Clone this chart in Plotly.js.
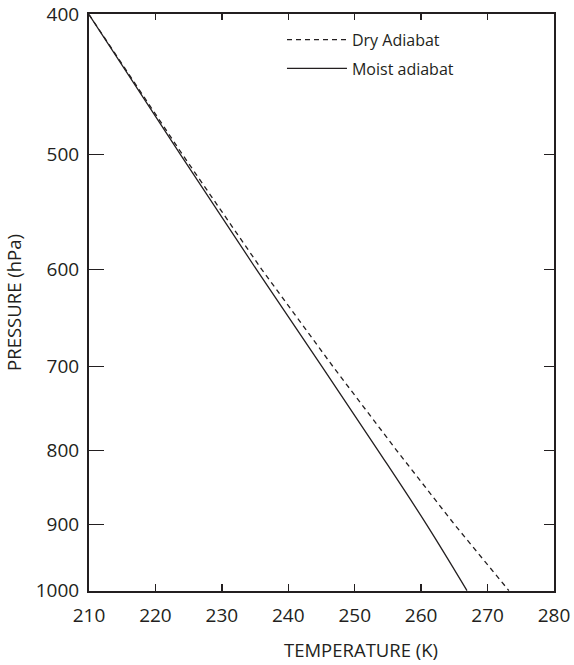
<!DOCTYPE html>
<html>
<head>
<meta charset="utf-8">
<script src="https://cdn.plot.ly/plotly-3.0.1.min.js"></script>
<style>html,body{margin:0;padding:0;background:#fff;}#chart{width:574px;height:665px;}</style>
</head>
<body>
<div id="chart"></div>
<script>
// Pressure levels (hPa)
var pressure = [400, 500, 600, 700, 800, 900, 1000];
// Temperatures (K)
var dryAdiabat = [210.0, 224.1, 236.0, 246.7, 256.3, 265.0, 273.2];
var moistAdiabat = [210.0, 223.8, 235.2, 245.05, 253.5, 260.8, 266.9];
// Tick labels
var xTicks = [210, 220, 230, 240, 250, 260, 270, 280];
var yTicks = [400, 500, 600, 700, 800, 900, 1000];
var xTitle = 'TEMPERATURE (K)';
var yTitle = 'PRESSURE (hPa)';

var ink = '#231f20';
var fontFam = '"Open Sans", "Noto Sans", sans-serif';
var logRange = [3.0003, 2.6017];

var traces = [
  {x: dryAdiabat, y: pressure, type: 'scatter', mode: 'lines', name: 'Dry Adiabat',
   legendgroup: 'dry',
   line: {color: ink, width: 1.3, dash: '5px,4px'}, xaxis: 'x', yaxis: 'y'},
  {x: moistAdiabat, y: pressure, type: 'scatter', mode: 'lines', name: 'Moist adiabat',
   legendgroup: 'moist',
   line: {color: ink, width: 1.3, shape: 'spline', smoothing: 1.0}, xaxis: 'x', yaxis: 'y'},
  {x: [], y: [], type: 'scatter', mode: 'lines', showlegend: false, hoverinfo: 'skip',
   xaxis: 'x2', yaxis: 'y2'}
];

var layout = {
  width: 574, height: 665,
  margin: {l: 89, r: 20, t: 14, b: 74, pad: 0},
  paper_bgcolor: '#ffffff', plot_bgcolor: '#ffffff',
  font: {family: fontFam, color: ink, size: 17},
  showlegend: true,
  legend: {x: 0.415, y: 0.985, xanchor: 'left', yanchor: 'top', bgcolor: 'rgba(0,0,0,0)',
           font: {size: 16, color: ink}, traceorder: 'grouped', tracegroupgap: 5, itemwidth: 60},
  xaxis: {range: [210, 280], tickvals: xTicks, ticktext: xTicks.map(String),
          ticks: 'inside', ticklen: 7, tickwidth: 1.3, tickcolor: ink,
          showline: true, linecolor: ink, linewidth: 2, mirror: true,
          showgrid: false, zeroline: false, ticklabelstandoff: 6, ticklabeloverflow: 'allow',
          tickfont: {size: 19, color: ink}},
  yaxis: {type: 'log', range: logRange, tickvals: yTicks, ticktext: yTicks.map(String),
          ticks: 'inside', ticklen: 15, tickwidth: 1.3, tickcolor: ink,
          showline: true, linecolor: ink, linewidth: 2, mirror: true,
          showgrid: false, zeroline: false, ticklabelstandoff: 4, ticklabeloverflow: 'allow',
          tickfont: {size: 19, color: ink},
          title: {text: yTitle, font: {size: 18.5, color: ink}, standoff: 9}},
  xaxis2: {overlaying: 'x', side: 'top', range: [210, 280], tickvals: xTicks,
           showticklabels: false, ticks: 'inside', ticklen: 6, tickwidth: 1.3, tickcolor: ink,
           showline: false, showgrid: false, zeroline: false},
  yaxis2: {overlaying: 'y', side: 'right', type: 'log', range: logRange, tickvals: yTicks,
           showticklabels: false, ticks: 'inside', ticklen: 10, tickwidth: 1.3, tickcolor: ink,
           showline: false, showgrid: false, zeroline: false},
  annotations: [
    {text: xTitle, xref: 'x', yref: 'paper', x: 251, y: -0.102, xanchor: 'center', yanchor: 'middle',
     showarrow: false, font: {size: 18.5, color: ink, family: fontFam}}
  ]
};

Plotly.newPlot('chart', traces, layout, {staticPlot: true, displayModeBar: false});
</script>
</body>
</html>
